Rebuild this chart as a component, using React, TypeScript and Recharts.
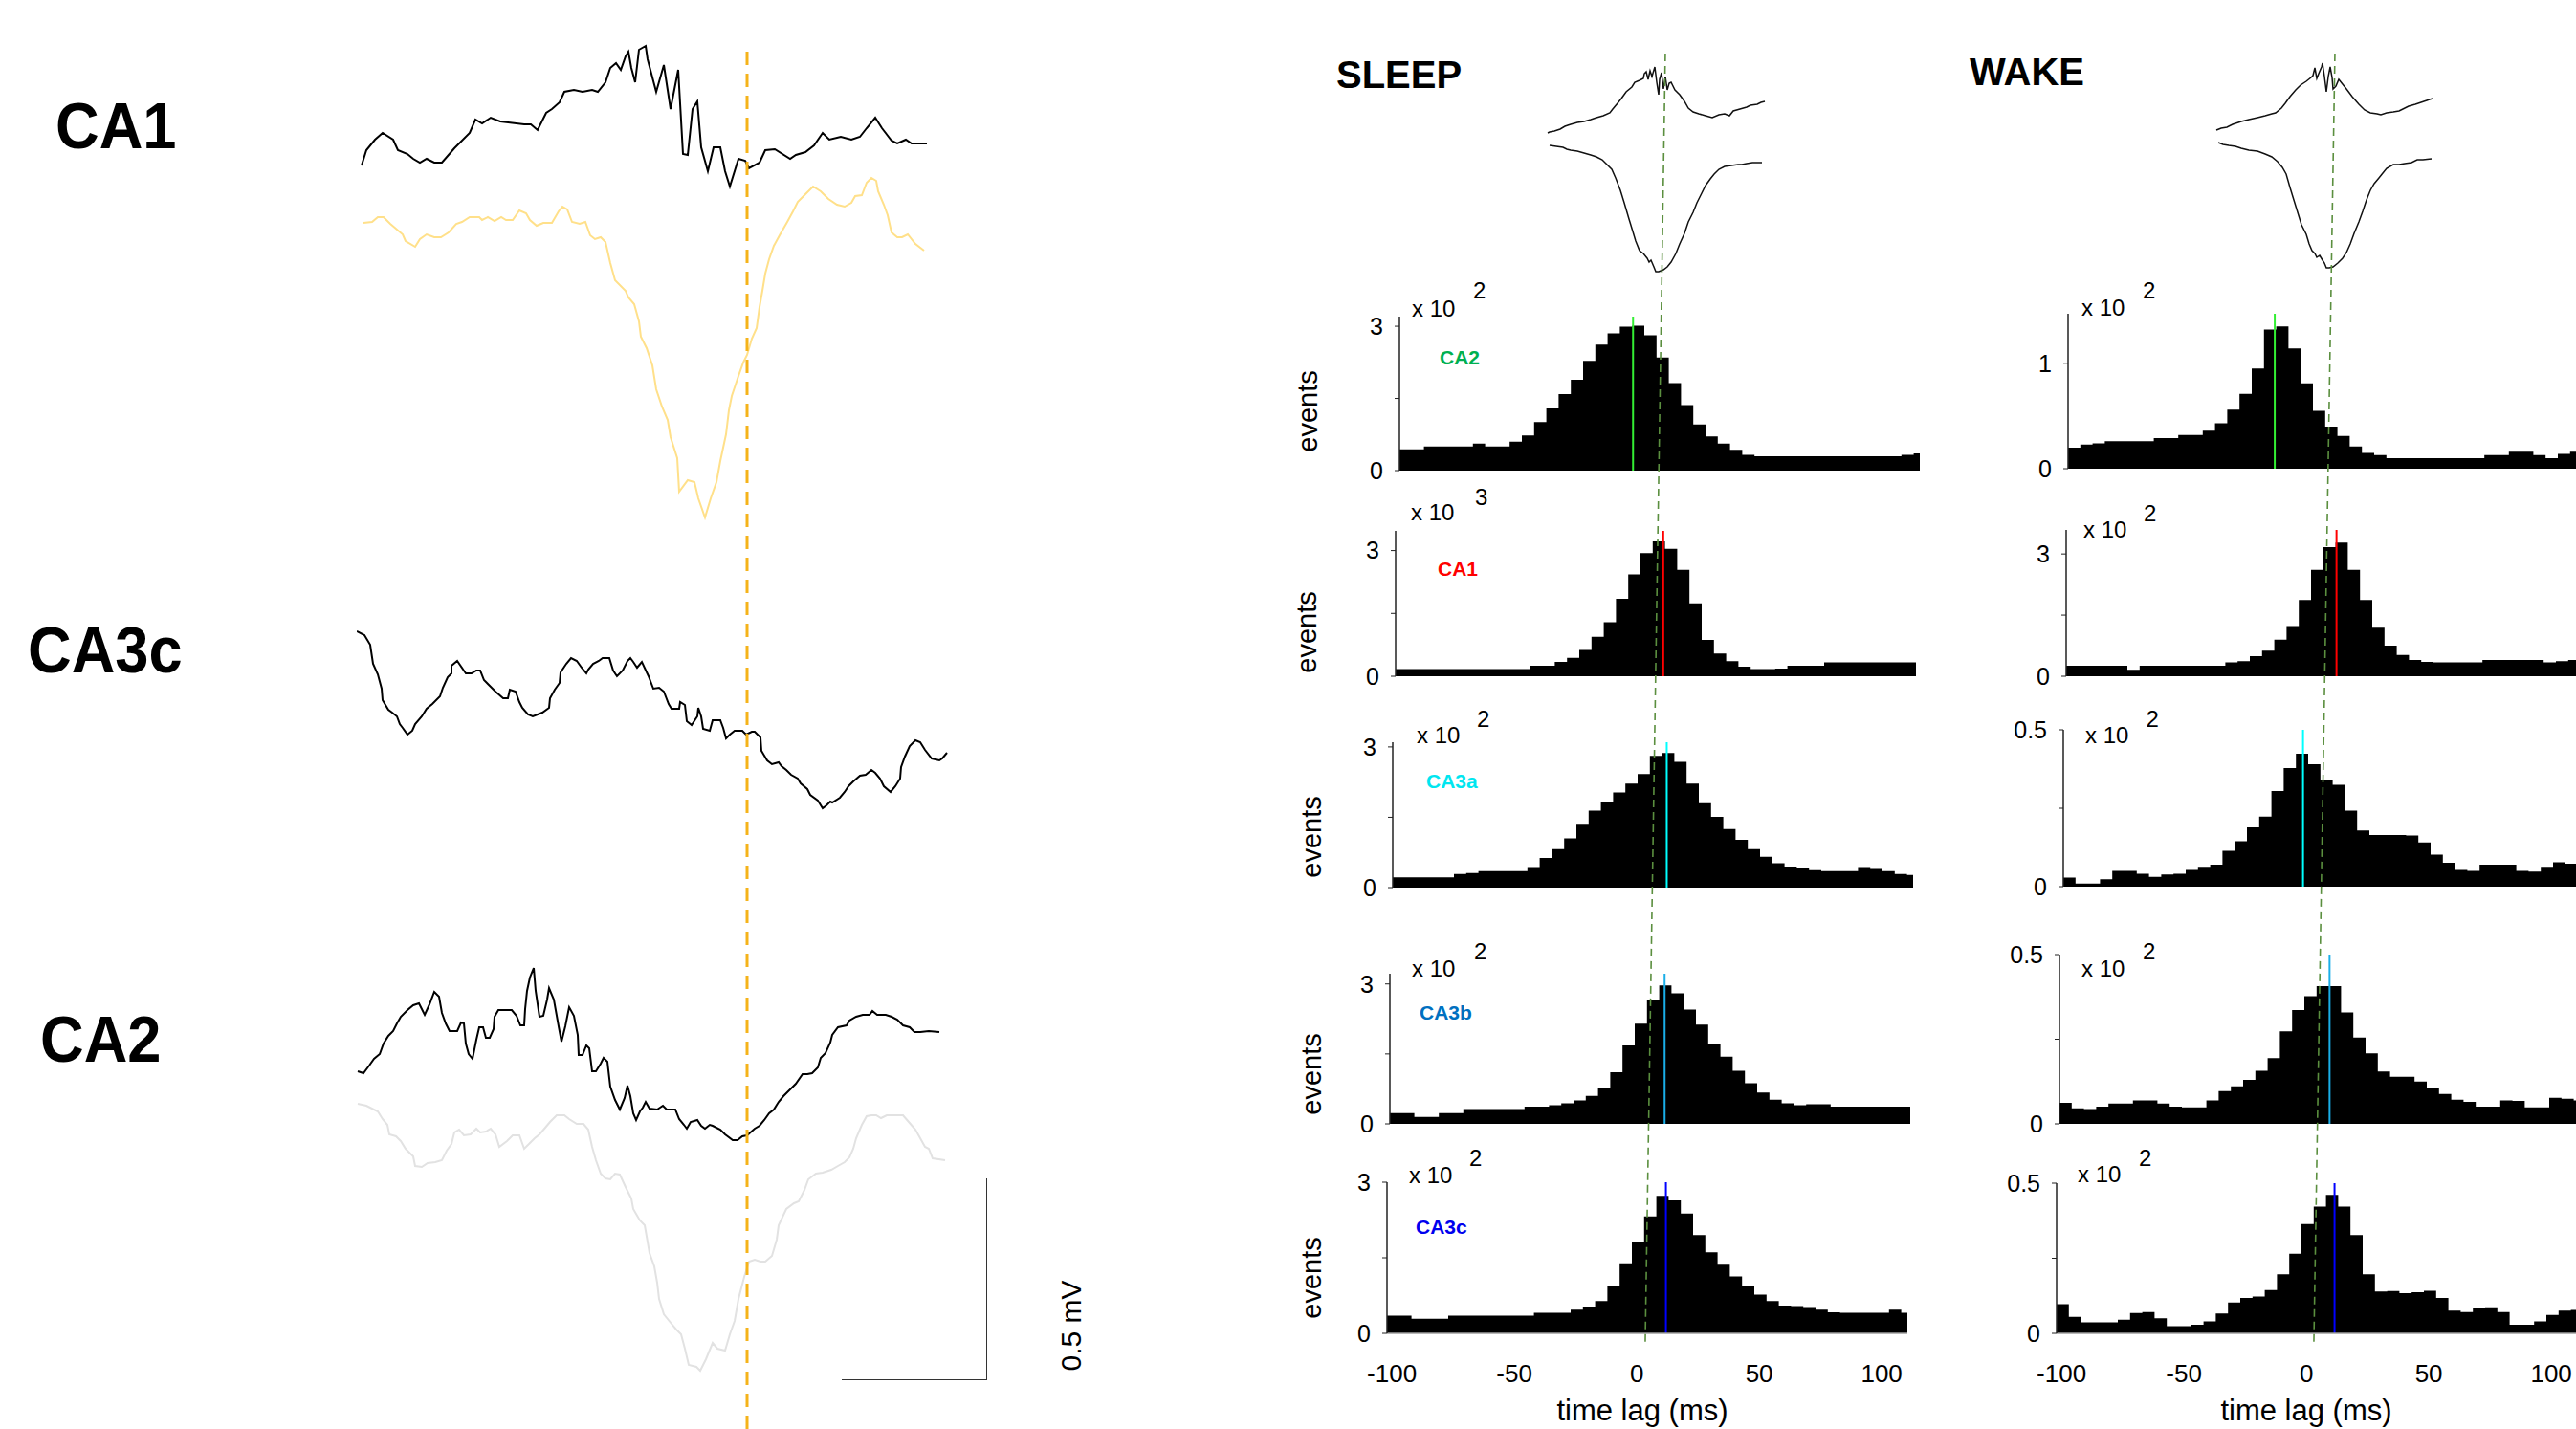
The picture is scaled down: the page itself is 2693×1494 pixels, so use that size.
import { Area, AreaChart, Line, LineChart, ReferenceLine, XAxis, YAxis } from 'recharts'

// ---------- raw LFP traces (left) ----------
// pairs are [time, amplitude] in figure units: 3.02 u = 1 ms, 213 u = 0.5 mV
const ca1Wide: [number, number][] = [
  [-403, 25], [-398, 41], [-389, 52], [-381, 59], [-370, 52], [-365, 41], [-355, 37], [-349, 32], [-342, 28], [-335, 32],
  [-327, 28], [-319, 28], [-306, 43], [-290, 59], [-284, 73], [-277, 69], [-268, 75], [-258, 71], [-233, 68], [-226, 68],
  [-219, 62], [-210, 80], [-204, 84], [-196, 91], [-191, 102], [-181, 104], [-172, 102], [-162, 104], [-156, 102], [-148, 112],
  [-143, 127], [-137, 132], [-132, 125], [-127, 139], [-124, 144], [-121, 127], [-117, 112], [-113, 146], [-106, 150], [-104, 136],
  [-95, 102], [-87, 130], [-80, 84], [-72, 125], [-67, 37], [-62, 36], [-57, 84], [-52, 92], [-48, 44], [-41, 19],
  [-35, 44], [-28, 44], [-23, 19], [-18, 3], [-9, 32], [-2, 30], [2, 22], [13, 28], [19, 41], [29, 42],
  [45, 32], [51, 36], [61, 39], [70, 46], [79, 59], [86, 52], [98, 55], [109, 52], [118, 55], [125, 64],
  [134, 75], [141, 64], [151, 51], [157, 48], [166, 52], [172, 48], [188, 48],
]

const ca1Filtered: [number, number][] = [
  [-401, 312], [-392, 313], [-386, 318], [-380, 318], [-373, 311], [-360, 300], [-357, 293], [-347, 287], [-342, 295], [-335, 300],
  [-327, 297], [-320, 297], [-312, 302], [-304, 311], [-298, 313], [-290, 318], [-280, 318], [-277, 315], [-271, 318], [-264, 314],
  [-257, 318], [-252, 315], [-245, 315], [-238, 325], [-231, 322], [-227, 315], [-220, 309], [-213, 312], [-204, 312], [-197, 324],
  [-193, 329], [-188, 326], [-183, 313], [-175, 311], [-169, 313], [-164, 299], [-159, 295], [-153, 297], [-148, 292], [-143, 270],
  [-138, 252], [-127, 241], [-124, 234], [-118, 227], [-113, 209], [-111, 193], [-105, 181], [-99, 163], [-95, 138], [-89, 120],
  [-83, 106], [-80, 88], [-73, 66], [-71, 31], [-62, 43], [-55, 41], [-51, 24], [-44, 4], [-38, 24], [-32, 41],
  [-28, 63], [-22, 91], [-19, 116], [-16, 131], [-9, 152], [-4, 166], [0, 174], [5, 191], [10, 202], [13, 224],
  [16, 241], [19, 259], [23, 274], [28, 288], [34, 299], [42, 313], [48, 324], [53, 334], [60, 341], [69, 350],
  [77, 345], [85, 337], [94, 331], [102, 329], [109, 333], [113, 340], [120, 341], [125, 354], [130, 359], [135, 356],
  [137, 345], [143, 331], [147, 320], [151, 302], [157, 297], [162, 297], [168, 300], [176, 290], [185, 283],
]

const ca3cWide: [number, number][] = [
  [-408, 189], [-400, 185], [-394, 175], [-391, 155], [-386, 144], [-382, 129], [-381, 117], [-375, 107], [-371, 104], [-366, 100],
  [-363, 92], [-360, 88], [-355, 81], [-350, 85], [-347, 92], [-340, 100], [-335, 108], [-329, 113], [-321, 121], [-318, 130],
  [-313, 141], [-309, 145], [-309, 153], [-303, 158], [-294, 145], [-288, 145], [-283, 148], [-279, 148], [-275, 138], [-269, 132],
  [-263, 126], [-255, 119], [-250, 119], [-248, 128], [-242, 126], [-238, 115], [-235, 109], [-229, 102], [-224, 100], [-219, 102],
  [-214, 104], [-207, 109], [-206, 119], [-201, 128], [-196, 135], [-195, 146], [-189, 155], [-184, 161], [-178, 158], [-173, 151],
  [-168, 145], [-166, 149], [-161, 155], [-155, 158], [-151, 161], [-144, 161], [-140, 148], [-136, 142], [-130, 148], [-125, 158],
  [-122, 161], [-119, 157], [-115, 151], [-110, 157], [-103, 142], [-98, 129], [-92, 130], [-87, 126], [-82, 113], [-79, 108],
  [-71, 108], [-70, 115], [-65, 112], [-63, 95], [-58, 91], [-52, 100], [-51, 109], [-48, 100], [-46, 87], [-39, 85],
  [-36, 96], [-28, 96], [-25, 88], [-22, 77], [-18, 81], [-13, 85], [-5, 85], [-1, 81], [5, 84], [8, 84],
  [14, 78], [15, 64], [21, 54], [26, 50], [33, 52], [36, 48], [41, 44], [46, 39], [53, 35], [56, 30],
  [63, 24], [66, 18], [74, 12], [79, 4], [83, 7], [87, 11], [89, 10], [97, 15], [102, 21], [106, 27],
  [111, 32], [118, 38], [124, 39], [130, 44], [134, 41], [139, 35], [143, 27], [150, 21], [155, 27], [160, 35],
  [161, 47], [165, 58], [170, 69], [176, 75], [181, 73], [186, 65], [193, 56], [201, 54], [204, 56], [209, 62],
]

const ca2Wide: [number, number][] = [
  [-407, 75], [-401, 73], [-395, 81], [-390, 88], [-384, 93], [-380, 104], [-375, 112], [-370, 117], [-366, 125], [-362, 132],
  [-355, 139], [-349, 144], [-343, 146], [-337, 134], [-332, 145], [-327, 158], [-322, 153], [-319, 136], [-315, 125], [-311, 117],
  [-303, 117], [-299, 126], [-296, 125], [-294, 104], [-291, 93], [-287, 88], [-283, 108], [-280, 121], [-276, 121], [-273, 110],
  [-269, 110], [-265, 119], [-264, 132], [-260, 139], [-246, 139], [-241, 133], [-237, 123], [-233, 123], [-232, 140], [-230, 159],
  [-227, 173], [-223, 183], [-221, 159], [-217, 132], [-213, 133], [-209, 150], [-207, 162], [-202, 150], [-197, 122], [-194, 106],
  [-190, 122], [-186, 142], [-181, 133], [-177, 113], [-176, 92], [-172, 92], [-168, 102], [-165, 99], [-162, 75], [-158, 75],
  [-153, 83], [-150, 89], [-146, 85], [-143, 59], [-138, 45], [-133, 35], [-128, 47], [-125, 60], [-122, 49], [-119, 31],
  [-116, 24], [-112, 33], [-109, 37], [-106, 43], [-102, 36], [-94, 35], [-88, 39], [-84, 35], [-75, 35], [-71, 25],
  [-66, 19], [-63, 15], [-59, 22], [-52, 24], [-48, 18], [-44, 15], [-39, 19], [-36, 18], [-28, 14], [-23, 9],
  [-15, 3], [-10, 3], [-5, 7], [0, 8], [8, 15], [13, 18], [18, 24], [23, 31], [28, 35], [33, 43],
  [38, 49], [45, 56], [51, 62], [58, 72], [63, 72], [68, 73], [74, 79], [77, 89], [82, 94], [87, 105],
  [89, 113], [95, 121], [104, 123], [107, 128], [114, 132], [121, 134], [128, 134], [131, 138], [136, 134], [145, 134],
  [151, 132], [157, 129], [163, 123], [170, 121], [175, 116], [181, 116], [190, 117], [201, 116],
]

const ca2Filtered: [number, number][] = [
  [-407, 283], [-398, 281], [-386, 275], [-381, 267], [-376, 261], [-374, 251], [-367, 249], [-362, 244], [-357, 236], [-349, 228],
  [-347, 218], [-340, 217], [-334, 221], [-326, 222], [-319, 224], [-314, 234], [-309, 241], [-306, 253], [-301, 256], [-296, 250],
  [-289, 251], [-283, 257], [-279, 253], [-273, 254], [-268, 257], [-263, 251], [-259, 238], [-251, 244], [-245, 250], [-238, 250],
  [-233, 236], [-228, 241], [-222, 247], [-217, 251], [-211, 258], [-206, 264], [-199, 271], [-191, 271], [-186, 267], [-178, 262],
  [-171, 262], [-166, 256], [-162, 238], [-158, 224], [-153, 210], [-148, 205], [-143, 204], [-138, 210], [-133, 209], [-127, 196],
  [-121, 184], [-119, 173], [-112, 161], [-107, 156], [-102, 127], [-97, 113], [-94, 96], [-92, 79], [-87, 63], [-79, 53],
  [-74, 47], [-69, 42], [-65, 27], [-61, 10], [-53, 8], [-49, 4], [-43, 16], [-36, 33], [-31, 27], [-23, 25],
  [-18, 42], [-13, 56], [-9, 79], [-3, 102], [2, 118], [8, 120], [14, 118], [19, 118], [26, 124], [31, 141],
  [33, 156], [41, 173], [49, 179], [54, 181], [60, 193], [64, 204], [72, 210], [79, 211], [88, 214], [95, 218],
  [102, 222], [107, 227], [111, 236], [114, 247], [120, 261], [125, 270], [130, 271], [135, 271], [140, 268], [146, 271],
  [153, 271], [163, 271], [169, 264], [176, 256], [181, 247], [186, 238], [190, 236], [194, 226], [207, 224],
]

// ---------- averaged ripple traces (right), [time, amplitude], 2.56 u = 1 ms ----------
const sleepRipple: [number, number][] = [
  [-93, 151], [-91, 152], [-86, 153], [-80, 155], [-75, 158], [-69, 160], [-62, 162], [-55, 163], [-48, 165], [-42, 167],
  [-35, 169], [-28, 172], [-25, 176], [-20, 182], [-16, 187], [-11, 194], [-5, 199], [-2, 204], [3, 206], [7, 208],
  [8, 213], [10, 215], [12, 207], [14, 216], [16, 210], [19, 220], [21, 204], [23, 191], [24, 207], [26, 214],
  [28, 197], [30, 210], [32, 196], [34, 203], [36, 204], [40, 196], [45, 191], [50, 184], [54, 177], [59, 173],
  [65, 171], [72, 169], [79, 167], [86, 170], [92, 171], [97, 169], [101, 174], [108, 176], [115, 178], [119, 180],
  [126, 181], [130, 183], [134, 184],
]
const sleepSharpWave: [number, number][] = [
  [-91, 138], [-84, 137], [-77, 136], [-73, 134], [-69, 133], [-62, 132], [-55, 130], [-48, 128], [-42, 126], [-36, 123],
  [-31, 118], [-26, 113], [-22, 104], [-17, 91], [-13, 78], [-8, 61], [-4, 48], [-1, 38], [3, 28], [7, 25],
  [11, 20], [13, 16], [15, 18], [18, 11], [20, 6], [23, 6], [28, 8], [32, 11], [36, 16], [41, 25],
  [45, 35], [50, 46], [54, 58], [59, 68], [63, 78], [68, 88], [72, 96], [77, 103], [81, 108], [86, 113],
  [92, 116], [99, 117], [106, 118], [110, 118], [115, 119], [121, 120], [128, 120], [131, 120],
]
const wakeRipple: [number, number][] = [
  [-94, 154], [-89, 156], [-83, 157], [-77, 160], [-68, 163], [-60, 165], [-51, 167], [-43, 169], [-36, 171], [-32, 172],
  [-26, 177], [-22, 182], [-17, 189], [-11, 196], [-6, 201], [0, 205], [5, 209], [7, 211], [9, 219], [11, 208],
  [13, 213], [16, 220], [17, 224], [19, 210], [21, 194], [23, 210], [25, 220], [27, 209], [28, 197], [31, 200],
  [34, 207], [38, 202], [42, 197], [48, 189], [55, 181], [61, 175], [67, 172], [74, 171], [78, 170], [84, 172],
  [91, 173], [97, 174], [101, 176], [107, 179], [114, 181], [120, 183], [126, 185], [132, 187],
]
const wakeSharpWave: [number, number][] = [
  [-92, 141], [-87, 139], [-81, 138], [-74, 137], [-68, 135], [-60, 133], [-51, 132], [-43, 129], [-36, 126], [-30, 121],
  [-25, 115], [-21, 108], [-17, 94], [-13, 81], [-9, 68], [-5, 55], [0, 45], [3, 35], [6, 28], [9, 25],
  [11, 21], [14, 23], [17, 18], [19, 15], [21, 10], [24, 10], [28, 11], [33, 15], [38, 20], [42, 26],
  [46, 35], [50, 46], [55, 58], [59, 69], [63, 81], [67, 91], [71, 98], [76, 104], [80, 109], [84, 114],
  [91, 118], [97, 118], [103, 119], [110, 120], [116, 123], [122, 123], [131, 124],
]

// ---------- cross-correlograms: events (x10^n) per 5 ms bin, first bin at -102 ms ----------
const sleepCA2 = [0.44, 0.44, 0.5, 0.5, 0.5, 0.5, 0.56, 0.5, 0.5, 0.6, 0.73, 1.01, 1.29, 1.59, 1.89, 2.28, 2.62, 2.85, 2.99, 3.01, 2.81, 2.35, 1.82, 1.36, 0.96, 0.71, 0.56, 0.43, 0.33, 0.3, 0.3, 0.3, 0.3, 0.3, 0.3, 0.3, 0.3, 0.3, 0.3, 0.3, 0.3, 0.33, 0.36]
const sleepCA1 = [0.17, 0.17, 0.17, 0.17, 0.17, 0.17, 0.17, 0.17, 0.17, 0.17, 0.17, 0.25, 0.25, 0.34, 0.44, 0.63, 0.94, 1.29, 1.85, 2.43, 2.94, 3.22, 3.04, 2.54, 1.74, 0.87, 0.54, 0.36, 0.23, 0.17, 0.17, 0.18, 0.25, 0.25, 0.25, 0.33, 0.33, 0.33, 0.33, 0.33, 0.33, 0.33, 0.33]
const sleepCA3a = [0.22, 0.22, 0.22, 0.22, 0.22, 0.29, 0.31, 0.35, 0.35, 0.35, 0.35, 0.44, 0.63, 0.82, 1.05, 1.34, 1.64, 1.83, 2.03, 2.22, 2.42, 2.81, 2.87, 2.68, 2.22, 1.8, 1.51, 1.25, 1.02, 0.82, 0.66, 0.52, 0.45, 0.42, 0.37, 0.35, 0.35, 0.35, 0.44, 0.4, 0.35, 0.29, 0.27]
const sleepCA3b = [0.23, 0.23, 0.15, 0.15, 0.23, 0.23, 0.32, 0.32, 0.32, 0.32, 0.32, 0.37, 0.37, 0.4, 0.44, 0.5, 0.6, 0.77, 1.11, 1.68, 2.15, 2.65, 2.97, 2.8, 2.45, 2.13, 1.72, 1.44, 1.14, 0.87, 0.67, 0.52, 0.44, 0.4, 0.42, 0.42, 0.37, 0.37, 0.37, 0.37, 0.37, 0.37, 0.37]
const sleepCA3c = [0.35, 0.35, 0.29, 0.29, 0.29, 0.35, 0.35, 0.35, 0.35, 0.35, 0.35, 0.35, 0.41, 0.41, 0.41, 0.47, 0.53, 0.64, 0.95, 1.39, 1.82, 2.32, 2.73, 2.64, 2.38, 1.95, 1.61, 1.36, 1.13, 0.95, 0.77, 0.64, 0.55, 0.54, 0.52, 0.47, 0.42, 0.41, 0.41, 0.41, 0.41, 0.47, 0.41]

const wakeCA2 = [0.2, 0.23, 0.24, 0.26, 0.26, 0.26, 0.26, 0.29, 0.29, 0.32, 0.32, 0.36, 0.43, 0.56, 0.71, 0.95, 1.32, 1.35, 1.14, 0.81, 0.55, 0.4, 0.31, 0.21, 0.15, 0.13, 0.1, 0.1, 0.1, 0.1, 0.1, 0.1, 0.1, 0.1, 0.13, 0.13, 0.16, 0.16, 0.13, 0.1, 0.14, 0.16, 0.16]
const wakeCA1 = [0.26, 0.26, 0.26, 0.26, 0.26, 0.16, 0.26, 0.26, 0.26, 0.26, 0.26, 0.26, 0.26, 0.34, 0.37, 0.49, 0.63, 0.9, 1.23, 1.87, 2.61, 3.17, 3.28, 2.61, 1.87, 1.19, 0.75, 0.52, 0.4, 0.35, 0.34, 0.34, 0.34, 0.34, 0.4, 0.4, 0.4, 0.4, 0.4, 0.34, 0.37, 0.4, 0.4]
const wakeCA3a = [0.029, 0.01, 0.01, 0.024, 0.05, 0.05, 0.041, 0.031, 0.039, 0.041, 0.053, 0.063, 0.07, 0.114, 0.145, 0.189, 0.223, 0.305, 0.378, 0.424, 0.39, 0.341, 0.325, 0.242, 0.179, 0.165, 0.165, 0.165, 0.163, 0.141, 0.102, 0.076, 0.053, 0.05, 0.07, 0.07, 0.07, 0.05, 0.048, 0.063, 0.078, 0.073, 0.07]
const wakeCA3b = [0.062, 0.046, 0.044, 0.051, 0.06, 0.06, 0.069, 0.069, 0.06, 0.051, 0.049, 0.049, 0.069, 0.097, 0.111, 0.13, 0.157, 0.194, 0.273, 0.336, 0.377, 0.407, 0.407, 0.329, 0.255, 0.208, 0.155, 0.139, 0.139, 0.125, 0.106, 0.088, 0.071, 0.065, 0.051, 0.051, 0.069, 0.068, 0.049, 0.049, 0.077, 0.074, 0.069]
const wakeCA3c = [0.097, 0.055, 0.037, 0.037, 0.037, 0.045, 0.068, 0.071, 0.05, 0.024, 0.024, 0.029, 0.04, 0.066, 0.103, 0.118, 0.123, 0.144, 0.197, 0.265, 0.364, 0.422, 0.461, 0.422, 0.327, 0.197, 0.139, 0.141, 0.134, 0.137, 0.142, 0.118, 0.076, 0.071, 0.085, 0.087, 0.071, 0.029, 0.029, 0.04, 0.061, 0.076, 0.078]

const regions = ['CA2', 'CA1', 'CA3a', 'CA3b', 'CA3c']
const sleepCounts = [sleepCA2, sleepCA1, sleepCA3a, sleepCA3b, sleepCA3c]
const wakeCounts = [wakeCA2, wakeCA1, wakeCA3a, wakeCA3b, wakeCA3c]
const sleepPeakLag = [-6.6, 7.3, 9.9, 10.2, 11.9]
const wakePeakLag = [-17.6, 8.4, -4.1, 8.3, 11.5]
const sleepExp = [2, 3, 2, 2, 2]
const wakeExp = [2, 2, 2, 2, 2]
const sleepYMax = [3.2, 3.47, 3.1, 3.22, 3.0]
const wakeYMax = [1.47, 3.59, 0.5, 0.5, 0.5]
const sleepYTicks = [[0, 1.5, 3], [0, 1.5, 3], [0, 1.5, 3], [0, 1.5, 3], [0, 1.5, 3]]
const wakeYTicks = [[0, 1], [0, 1.5, 3], [0, 0.25, 0.5], [0, 0.25, 0.5], [0, 0.25, 0.5]]
const sleepYLabels = [[0, 3], [0, 3], [0, 3], [0, 3], [0, 3]]
const wakeYLabels = [[0, 1], [0, 3], [0, 0.5], [0, 0.5], [0, 0.5]]
const lagTicks = [-100, -50, 0, 50, 100]

// slanted ripple-peak reference (ms) at top and bottom of each column
const sleepSync = [{ lag: 11.7, y: 1 }, { lag: 3.5, y: 0 }]
const wakeSync = [{ lag: 11.7, y: 1 }, { lag: 3.1, y: 0 }]

const regionColor: Record<string, string> = { CA2: '#00b050', CA1: '#ff0000', CA3a: '#00e6f0', CA3b: '#0070c0', CA3c: '#0000ee' }
const peakColor: Record<string, string> = { CA2: '#33ee33', CA1: '#ff0000', CA3a: '#00ffff', CA3b: '#1aaee8', CA3c: '#0000ff' }

// ---------- layout ----------
const FONT = "'Liberation Sans', Arial, Helvetica, sans-serif"
const MS_PER_U = 1 / 3.02
const MV_PER_U = 0.5 / 213
const LAG_MS_PER_U = 1 / 2.56
const BIN_START = -102
const BIN_W = 5
const LAG_DOMAIN: [number, number] = [-102, 110.5]
const PLOT_W = 544
const YAXIS_W = 70
const HPAD = 18
const TRACE_LEFT = 373
const TRACE_W = 618
const TRACE_DOMAIN: [number, number] = [-408 * MS_PER_U, 210 * MS_PER_U]

const sleepLayout = [
  { axisX: 1463, top: 331, bottom: 492, x10: [1476, 331.5], sup: [1540, 312], events: [1367, 430], tag: [1505, 380.5] },
  { axisX: 1459, top: 555, bottom: 707, x10: [1475, 544.5], sup: [1542, 528], events: [1366, 661], tag: [1503, 601.5] },
  { axisX: 1456, top: 776, bottom: 928, x10: [1481, 777.5], sup: [1544, 760], events: [1371, 875], tag: [1491, 823.5] },
  { axisX: 1453, top: 1018, bottom: 1175, x10: [1476, 1021], sup: [1541, 1003], events: [1371, 1123], tag: [1484, 1065.5] },
  { axisX: 1450, top: 1236, bottom: 1394, x10: [1473, 1237], sup: [1536, 1219], events: [1371, 1336], tag: [1480, 1289.5] },
]
const wakeLayout = [
  { axisX: 2162, top: 328, bottom: 490, x10: [2176, 330], sup: [2240, 312] },
  { axisX: 2160, top: 554, bottom: 707, x10: [2178, 562], sup: [2241, 545] },
  { axisX: 2157, top: 763, bottom: 927, x10: [2180, 777.5], sup: [2243.5, 760] },
  { axisX: 2153, top: 998, bottom: 1175, x10: [2176, 1021], sup: [2240, 1003] },
  { axisX: 2150, top: 1237, bottom: 1394, x10: [2172, 1236], sup: [2236, 1219] },
]

const toTraceRows = (pts: [number, number][]) => pts.map(([t, v]) => ({ t: t * MS_PER_U, v: v * MV_PER_U }))
const toRippleRows = (pts: [number, number][]) => pts.map(([t, v]) => ({ t: t * LAG_MS_PER_U, v }))
const binRows = (vals: number[]) => [
  ...vals.map((n, k) => ({ lag: BIN_START + k * BIN_W, n })),
  { lag: LAG_DOMAIN[1], n: vals[vals.length - 1] },
]

function Txt({ x, baseline, size, bold, color = '#000', scaleX, children }: any) {
  return (
    <div
      style={{
        position: 'absolute', left: x, top: baseline - 0.8465 * size, fontSize: size, lineHeight: 1,
        fontWeight: bold ? 700 : 400, color, whiteSpace: 'nowrap',
        transform: scaleX ? `scaleX(${scaleX})` : undefined, transformOrigin: 'left top',
      }}
    >
      {children}
    </div>
  )
}

function VText({ cx, cy, size, children }: any) {
  return (
    <div
      style={{
        position: 'absolute', left: cx, top: cy, fontSize: size, lineHeight: 1, whiteSpace: 'nowrap',
        transform: 'translate(-50%, -50%) rotate(-90deg)',
      }}
    >
      {children}
    </div>
  )
}

function TraceChart({ series, left, top, width, height, xDomain, yDomain, z = 1 }: any) {
  const pad = 4
  return (
    <div style={{ position: 'absolute', left: left - pad, top: top - pad, zIndex: z, pointerEvents: 'none' }}>
      <LineChart width={width + 2 * pad} height={height + 2 * pad} margin={{ top: pad, right: pad, bottom: pad, left: pad }}>
        <XAxis type="number" dataKey="t" domain={xDomain} allowDataOverflow hide />
        <YAxis type="number" domain={yDomain} allowDataOverflow hide />
        {series.map((s: any, i: number) => (
          <Line
            key={i}
            data={s.rows}
            dataKey="v"
            type="linear"
            stroke={s.color}
            strokeWidth={s.width}
            strokeDasharray={s.dash}
            dot={false}
            activeDot={false}
            isAnimationActive={false}
          />
        ))}
      </LineChart>
    </div>
  )
}

function Histogram({ values, lay, ymax, ticks, labels, peak, color, showX }: any) {
  const h = lay.bottom - lay.top
  const xh = showX ? 80 : 0
  const bottomPad = showX ? 0 : HPAD
  return (
    <div style={{ position: 'absolute', left: lay.axisX - YAXIS_W, top: lay.top - HPAD }}>
      <AreaChart
        width={YAXIS_W + PLOT_W}
        height={h + xh + HPAD + bottomPad}
        data={binRows(values)}
        margin={{ top: HPAD, right: 0, bottom: bottomPad, left: 0 }}
      >
        <XAxis
          type="number"
          dataKey="lag"
          domain={LAG_DOMAIN}
          allowDataOverflow
          ticks={lagTicks}
          interval={0}
          hide={!showX}
          height={xh}
          tickSize={0}
          tickMargin={33}
          tickLine={false}
          axisLine={{ stroke: '#a0a0a0', strokeWidth: 1.5 }}
          tick={{ fontSize: 26, fill: '#000' }}
        />
        <YAxis
          type="number"
          domain={[0, ymax]}
          allowDataOverflow
          ticks={ticks}
          interval={0}
          width={YAXIS_W}
          tickSize={5}
          tickMargin={12}
          axisLine={{ stroke: '#222', strokeWidth: 1.5 }}
          tickLine={{ stroke: '#222' }}
          tick={{ fontSize: 25, fill: '#000' }}
          tickFormatter={(v: number) => (labels.includes(v) ? String(v) : '')}
        />
        <Area type="stepAfter" dataKey="n" stroke="none" fill="#000" fillOpacity={1} baseValue={0} isAnimationActive={false} />
        <ReferenceLine x={peak} stroke={color} strokeWidth={2} />
      </AreaChart>
    </div>
  )
}

function Column({ title, titleX, titleBase, counts, layout, peaks, exps, ymax, yticks, ylabels, showEvents, ripple, sharp, sync, chartLeft, lagCenter }: any) {
  const avgDomain: [number, number] = [-111 * LAG_MS_PER_U, 149 * LAG_MS_PER_U]
  return (
    <>
      <Txt x={titleX} baseline={titleBase} size={40} bold>{title}</Txt>
      <TraceChart
        left={chartLeft}
        top={60}
        width={260}
        height={230}
        xDomain={avgDomain}
        yDomain={[0, 230]}
        series={[
          { rows: toRippleRows(ripple), color: '#111', width: 1.5 },
          { rows: toRippleRows(sharp), color: '#111', width: 1.5 },
        ]}
      />
      {counts.map((vals: number[], i: number) => {
        const lay = layout[i]
        const r = regions[i]
        return (
          <div key={r}>
            <Histogram
              values={vals}
              lay={lay}
              ymax={ymax[i]}
              ticks={yticks[i]}
              labels={ylabels[i]}
              peak={peaks[i]}
              color={peakColor[r]}
              showX={i === counts.length - 1}
            />
            <Txt x={lay.x10[0]} baseline={lay.x10[1]} size={24}>x 10</Txt>
            <Txt x={lay.sup[0]} baseline={lay.sup[1]} size={24}>{exps[i]}</Txt>
            {showEvents && <VText cx={lay.events[0]} cy={lay.events[1]} size={29}>events</VText>}
            {showEvents && (
              <Txt x={lay.tag[0]} baseline={lay.tag[1]} size={21} bold color={regionColor[r]}>{r}</Txt>
            )}
          </div>
        )
      })}
      <TraceChart
        left={chartLeft}
        top={56}
        width={260}
        height={1348}
        xDomain={avgDomain}
        yDomain={[0, 1]}
        z={5}
        series={[{ rows: sync.map((d: any) => ({ t: d.lag, v: d.y })), color: '#5b8f3f', width: 1.6, dash: '8 5' }]}
      />
      <div
        style={{
          position: 'absolute', left: lagCenter, top: 1485 - 0.8465 * 31, fontSize: 31, lineHeight: 1,
          whiteSpace: 'nowrap', transform: 'translateX(-50%)',
        }}
      >
        time lag (ms)
      </div>
    </>
  )
}

export default function App() {
  const leftTraces = [
    { pts: ca1Wide, top: 45, height: 153, color: '#000', width: 2 },
    { pts: ca1Filtered, top: 183, height: 362, color: '#ffe08a', width: 2 },
    { pts: ca3cWide, top: 655, height: 194, color: '#000', width: 2 },
    { pts: ca2Filtered, top: 1150, height: 287, color: '#e2e2e2', width: 2 },
    { pts: ca2Wide, top: 1008, height: 187, color: '#000', width: 2 },
  ]
  return (
    <div
      style={{
        position: 'absolute', left: 0, top: 0, width: 2693, height: 1494, overflow: 'hidden',
        background: '#fff', fontFamily: FONT, color: '#000',
      }}
    >
      {/* left: example raw traces */}
      <Txt x={58} baseline={155} size={68} bold scaleX={0.93}>CA1</Txt>
      <Txt x={29} baseline={703} size={68} bold scaleX={0.93}>CA3c</Txt>
      <Txt x={42} baseline={1110} size={68} bold scaleX={0.93}>CA2</Txt>
      {leftTraces.map((tr, i) => (
        <TraceChart
          key={i}
          left={TRACE_LEFT}
          top={tr.top}
          width={TRACE_W}
          height={tr.height}
          xDomain={TRACE_DOMAIN}
          yDomain={[0, tr.height * MV_PER_U]}
          series={[{ rows: toTraceRows(tr.pts), color: tr.color, width: tr.width }]}
        />
      ))}
      <TraceChart
        left={TRACE_LEFT}
        top={52}
        width={TRACE_W}
        height={1442}
        xDomain={TRACE_DOMAIN}
        yDomain={[0, 1]}
        z={3}
        series={[{ rows: [{ t: 0, v: 0 }, { t: 0, v: 1 }], color: '#f5b31a', width: 3, dash: '14 9' }]}
      />
      {/* scale bar */}
      <div style={{ position: 'absolute', left: 1031, top: 1232, width: 0, height: 211, borderLeft: '1.5px solid #333' }} />
      <div style={{ position: 'absolute', left: 880, top: 1442, width: 152, height: 0, borderTop: '1.5px solid #333' }} />
      <VText cx={1120} cy={1386} size={30}>0.5 mV</VText>

      <Column
        title="SLEEP"
        titleX={1397}
        titleBase={92}
        counts={sleepCounts}
        layout={sleepLayout}
        peaks={sleepPeakLag}
        exps={sleepExp}
        ymax={sleepYMax}
        yticks={sleepYTicks}
        ylabels={sleepYLabels}
        showEvents
        ripple={sleepRipple}
        sharp={sleepSharpWave}
        sync={sleepSync}
        chartLeft={1600}
        lagCenter={1717}
      />
      <Column
        title="WAKE"
        titleX={2059}
        titleBase={89}
        counts={wakeCounts}
        layout={wakeLayout}
        peaks={wakePeakLag}
        exps={wakeExp}
        ymax={wakeYMax}
        yticks={wakeYTicks}
        ylabels={wakeYLabels}
        showEvents={false}
        ripple={wakeRipple}
        sharp={wakeSharpWave}
        sync={wakeSync}
        chartLeft={2300}
        lagCenter={2411}
      />
    </div>
  )
}
